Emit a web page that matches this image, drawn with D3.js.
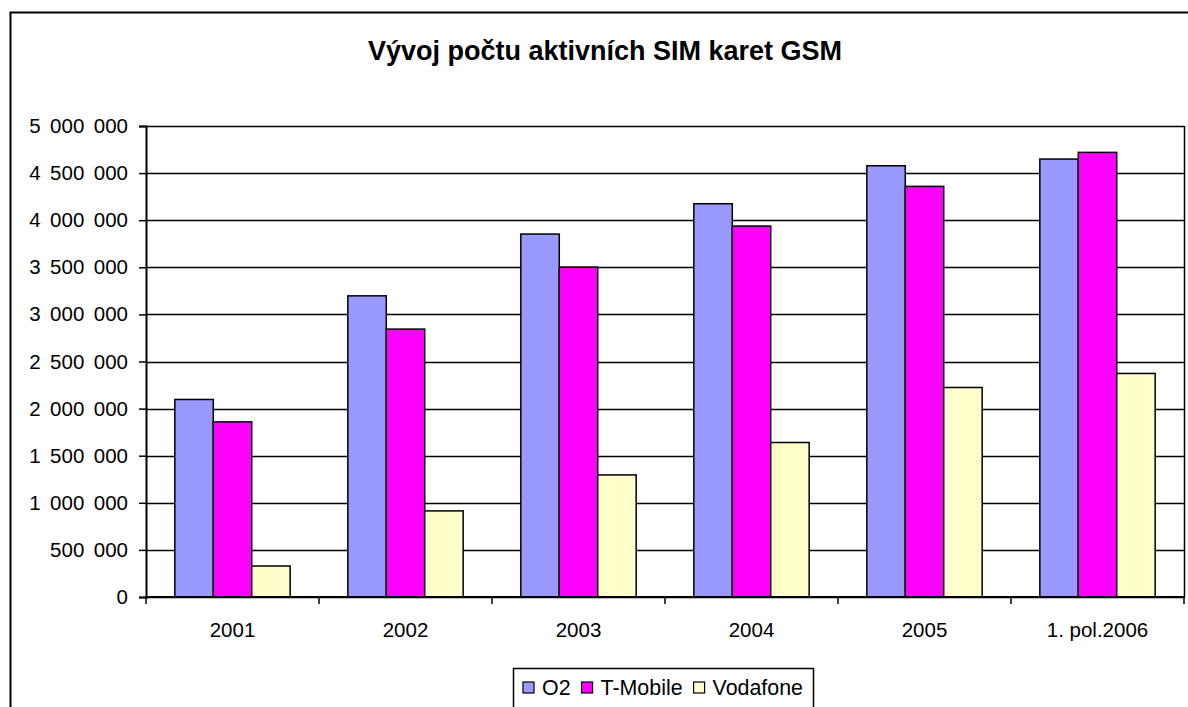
<!DOCTYPE html>
<html>
<head>
<meta charset="utf-8">
<script src="https://cdn.jsdelivr.net/npm/d3@7"></script>
<style>
body { margin: 0; background: #fff; }
svg { display: block; font-family: "Liberation Sans", Arial, sans-serif; }
</style>
</head>
<body>
<div id="chart"></div>
<script>
var categories = ['2001', '2002', '2003', '2004', '2005', '1. pol.2006'];
var series_names = ['O2', 'T-Mobile', 'Vodafone'];
var o2_values = [2097000, 3197000, 3853000, 4175000, 4578000, 4649000];
var tmobile_values = [1859000, 2844000, 3502000, 3938000, 4359000, 4720000];
var vodafone_values = [329000, 914000, 1296000, 1640000, 2224000, 2373000];
var y_ticks = [0, 500000, 1000000, 1500000, 2000000, 2500000, 3000000, 3500000, 4000000, 4500000, 5000000];
var colors = ['#9999FF', '#FF00FF', '#FFFFCC'];

var title = 'Vývoj počtu aktivních SIM karet GSM';

var width = 1188;
var height = 707;
var plot = {left: 146, right: 1184, top: 126, bottom: 597};

var series = [o2_values, tmobile_values, vodafone_values];
var rows = categories.map(function(c, i) {
    return {cat: c, values: series.map(function(s, j) { return {name: series_names[j], value: s[i]}; })};
});

var svg = d3.select('#chart')
    .append('svg')
        .attr('width', width)
        .attr('height', height);

// outer chart border (cut off at right and bottom like the original)
svg.append('rect')
    .attr('x', 10.5)
    .attr('y', 12.5)
    .attr('width', 1200)
    .attr('height', 720)
    .attr('fill', '#fff')
    .attr('stroke', '#000')
    .attr('stroke-width', 2);

svg.append('text')
    .attr('x', 605)
    .attr('y', 60)
    .attr('text-anchor', 'middle')
    .style('font-weight', 'bold')
    .style('font-size', '27px')
    .text(title);

// gap width 150% like excel: bars take 3 of 4.5 units
var x_scale = d3.scaleBand()
    .domain(categories)
    .range([plot.left, plot.right])
    .paddingInner(1 / 3)
    .paddingOuter(1 / 6);

var x_inner = d3.scaleBand()
    .domain(series_names)
    .range([0, x_scale.bandwidth()]);

var y_scale = d3.scaleLinear()
    .domain([0, 5000000])
    .range([plot.bottom, plot.top]);

// category boundaries for ticks
var x_bounds = d3.scaleLinear()
    .domain([0, categories.length])
    .range([plot.left, plot.right]);

// gridlines
svg.append('g')
    .selectAll('line')
    .data(y_ticks)
    .enter()
    .append('line')
        .attr('x1', plot.left)
        .attr('x2', plot.right)
        .attr('y1', function(d) { return Math.round(y_scale(d)) + 0.5; })
        .attr('y2', function(d) { return Math.round(y_scale(d)) + 0.5; })
        .attr('stroke', '#000')
        .attr('stroke-width', 1.5);

// right border of plot area
svg.append('line')
    .attr('x1', plot.right + 0.5)
    .attr('x2', plot.right + 0.5)
    .attr('y1', plot.top)
    .attr('y2', plot.bottom)
    .attr('stroke', '#000')
    .attr('stroke-width', 1.5);

// bars
var groups = svg.selectAll('.group')
    .data(rows)
    .enter()
    .append('g')
        .attr('class', 'group')
        .attr('transform', function(d) { return 'translate(' + x_scale(d.cat) + ',0)'; });

groups.selectAll('rect')
    .data(function(d) { return d.values; })
    .enter()
    .append('rect')
        .attr('x', function(d) { return x_inner(d.name); })
        .attr('y', function(d) { return y_scale(d.value); })
        .attr('width', x_inner.bandwidth())
        .attr('height', function(d) { return plot.bottom - y_scale(d.value); })
        .attr('fill', function(d, i) { return colors[i]; })
        .attr('stroke', '#000')
        .attr('stroke-width', 1.5);

// y axis
var fmt = d3.format(',');
var y_axis = d3.axisLeft(y_scale)
    .tickValues(y_ticks)
    .tickSize(7)
    .tickPadding(11)
    .tickFormat(function(d) { return fmt(d).replace(/,/g, ' '); });

svg.append('g')
    .attr('class', 'y-axis')
    .attr('transform', 'translate(' + plot.left + ',0)')
    .call(y_axis)
    .call(function(g) { g.select('.domain').attr('stroke-width', 2); })
    .call(function(g) { g.selectAll('.tick line').attr('stroke-width', 1.5); })
    .selectAll('text')
        .attr('fill', '#000')
        .style('font-family', '"Liberation Sans", Arial, sans-serif')
        .style('font-size', '20.5px')
        .style('word-spacing', '3.8px');

// x axis
svg.append('line')
    .attr('x1', plot.left - 1)
    .attr('x2', plot.right + 1)
    .attr('y1', plot.bottom)
    .attr('y2', plot.bottom)
    .attr('stroke', '#000')
    .attr('stroke-width', 2);

svg.append('g')
    .selectAll('line')
    .data(d3.range(categories.length + 1))
    .enter()
    .append('line')
        .attr('x1', function(d) { return x_bounds(d); })
        .attr('x2', function(d) { return x_bounds(d); })
        .attr('y1', plot.bottom)
        .attr('y2', plot.bottom + 7)
        .attr('stroke', '#000')
        .attr('stroke-width', 1.5);

svg.append('g')
    .selectAll('text')
    .data(categories)
    .enter()
    .append('text')
        .attr('x', function(d) { return x_scale(d) + x_scale.bandwidth() / 2; })
        .attr('y', 637)
        .attr('text-anchor', 'middle')
        .style('font-size', '20.5px')
        .text(function(d) { return d; });

// legend
var legend_box = {x: 513, y: 668, w: 300};
svg.append('rect')
    .attr('x', legend_box.x + 0.5)
    .attr('y', legend_box.y + 0.5)
    .attr('width', legend_box.w)
    .attr('height', 60)
    .attr('fill', '#fff')
    .attr('stroke', '#000')
    .attr('stroke-width', 1.5);

var legend = svg.append('g');
var lx = 0;
series_names.forEach(function(name, i) {
    legend.append('rect')
        .attr('x', lx)
        .attr('y', 682)
        .attr('width', 11)
        .attr('height', 11)
        .attr('fill', colors[i])
        .attr('stroke', '#000')
        .attr('stroke-width', 1.2);
    var t = legend.append('text')
        .attr('x', lx + 19)
        .attr('y', 695)
        .style('font-size', '21.4px')
        .text(name);
    lx = lx + 19 + t.node().getComputedTextLength() + 11;
});
var legend_w = lx - 11;
legend.attr('transform', 'translate(' + (legend_box.x + (legend_box.w - legend_w) / 2) + ',0)');
</script>
</body>
</html>
